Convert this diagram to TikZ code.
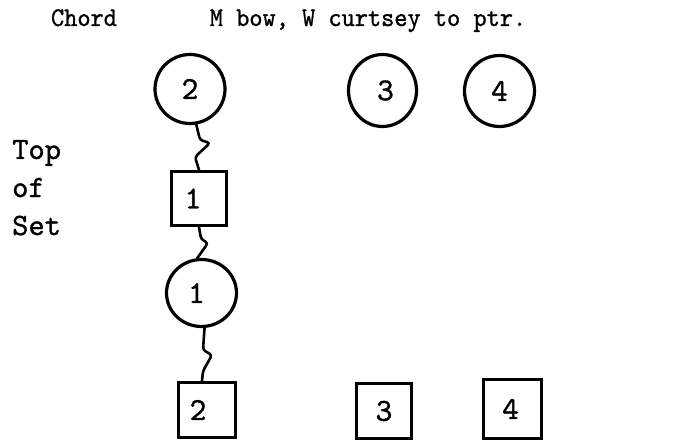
\documentclass[tikz,border=0pt]{standalone}
\usepackage{fontspec}
\newfontfamily\tw{lmmono10-regular.otf}[FakeBold=1]
\newfontfamily\twn{lmmono10-regular.otf}[FakeStretch=0.93,FakeBold=1]
\usetikzlibrary{shapes.geometric,calc}
\begin{document}
\begin{tikzpicture}[x=1pt,y=-1pt,
  shp/.style={draw,line width=3.2pt,inner sep=0pt,font=\tw\fontsize{32}{32}\selectfont},
  blob/.style={shp,ellipse},
  box/.style={shp,rectangle},
  wig/.style={line width=2.6pt,rounded corners=3pt,line cap=round},
  lbl/.style={font=\twn\fontsize{27}{32}\selectfont,inner sep=0pt,anchor=base},
  side/.style={font=\tw\fontsize{31}{37}\selectfont,inner sep=0pt,anchor=base west},
]
\useasboundingbox (0,0) rectangle (680,441);

% headings
\node[lbl] (chord) at (84,26) {Chord};
\node[lbl] (mbow) at (368,26) {M bow, W curtsey to ptr.};
\node[side] (top) at (12,159) {Top};
\node[side] (of) at (12,197) {of};
\node[side] (set) at (12,235) {Set};

% dancers
\node[blob,minimum width=70pt,minimum height=69pt] (c2) at (190,89) {\raisebox{-5pt}{2}};
\node[box,minimum width=55pt,minimum height=54pt] (s1) at (199,198.5) {\kern-12pt\raisebox{-3pt}{1}};
\node[blob,minimum width=70pt,minimum height=67pt] (c1) at (201.5,293) {\kern-10pt\raisebox{-8pt}{1}};
\node[box,minimum width=57pt,minimum height=55pt] (s2) at (207,410) {\kern-18pt\raisebox{-7pt}{2}};

\node[blob,minimum width=68pt,minimum height=72pt] (c3) at (382.5,90.5) {\kern6pt\raisebox{-7pt}{3}};
\node[blob,minimum width=70pt,minimum height=71pt] (c4) at (499.5,91) {\raisebox{-6pt}{4}};
\node[box,minimum width=55pt,minimum height=55pt] (s3) at (384,411) {\raisebox{-6pt}{3}};
\node[box,minimum width=58pt,minimum height=59pt] (s4) at (512.5,409) {\kern-4pt\raisebox{-9pt}{4}};

% partner links
\draw[wig] (c2.-80) -- (200,140) -- (210,143) -- (195,157) -- (s1.north);
\draw[wig] (s1.south) -- (201,239) -- (208,243) -- (c1.97);
\draw[wig] (c1.-85) -- (203,350) -- (212,355) -- (203,371) -- ([xshift=-5pt]s2.north);
\end{tikzpicture}
\end{document}
